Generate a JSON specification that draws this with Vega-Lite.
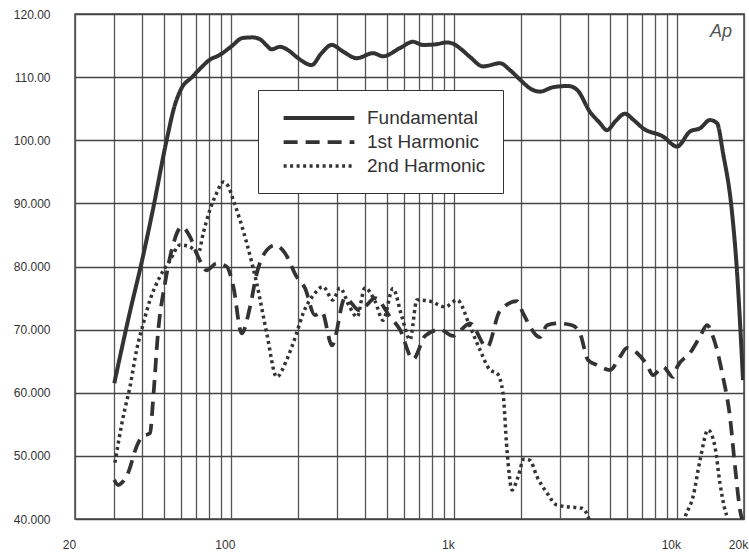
{
  "$schema": "https://vega.github.io/schema/vega-lite/v6.json",
  "width": 669,
  "height": 505,
  "autosize": {"type": "none"},
  "padding": {"left": 75, "top": 14, "right": 5, "bottom": 33},
  "background": "white",
  "config": {
    "view": {"stroke": "#444", "strokeWidth": 1.5},
    "font": "Liberation Sans"
  },
  "datasets": {
    "curves": [
      {"s": "Fundamental", "f": 30, "v": 61.5},
      {"s": "Fundamental", "f": 35, "v": 72.3},
      {"s": "Fundamental", "f": 40, "v": 81},
      {"s": "Fundamental", "f": 45, "v": 89.5},
      {"s": "Fundamental", "f": 51.5, "v": 100},
      {"s": "Fundamental", "f": 56, "v": 105.5},
      {"s": "Fundamental", "f": 60, "v": 108.2},
      {"s": "Fundamental", "f": 67, "v": 110},
      {"s": "Fundamental", "f": 74, "v": 111.6},
      {"s": "Fundamental", "f": 80, "v": 112.7},
      {"s": "Fundamental", "f": 89, "v": 113.5},
      {"s": "Fundamental", "f": 100, "v": 114.8},
      {"s": "Fundamental", "f": 113, "v": 116.2},
      {"s": "Fundamental", "f": 125, "v": 116.3},
      {"s": "Fundamental", "f": 135, "v": 116},
      {"s": "Fundamental", "f": 145, "v": 115},
      {"s": "Fundamental", "f": 152, "v": 114.4},
      {"s": "Fundamental", "f": 166, "v": 114.8},
      {"s": "Fundamental", "f": 180, "v": 114.3},
      {"s": "Fundamental", "f": 197, "v": 113.2},
      {"s": "Fundamental", "f": 212, "v": 112.4},
      {"s": "Fundamental", "f": 230, "v": 111.9},
      {"s": "Fundamental", "f": 255, "v": 113.8},
      {"s": "Fundamental", "f": 283, "v": 115.1},
      {"s": "Fundamental", "f": 320, "v": 114},
      {"s": "Fundamental", "f": 367, "v": 113},
      {"s": "Fundamental", "f": 434, "v": 113.8},
      {"s": "Fundamental", "f": 481, "v": 113.3},
      {"s": "Fundamental", "f": 573, "v": 114.6},
      {"s": "Fundamental", "f": 656, "v": 115.6},
      {"s": "Fundamental", "f": 727, "v": 115.1},
      {"s": "Fundamental", "f": 830, "v": 115.2},
      {"s": "Fundamental", "f": 929, "v": 115.5},
      {"s": "Fundamental", "f": 991, "v": 115.3},
      {"s": "Fundamental", "f": 1080, "v": 114.4},
      {"s": "Fundamental", "f": 1181, "v": 113.2},
      {"s": "Fundamental", "f": 1351, "v": 111.7},
      {"s": "Fundamental", "f": 1610, "v": 112.2},
      {"s": "Fundamental", "f": 1786, "v": 111.1},
      {"s": "Fundamental", "f": 1981, "v": 109.6},
      {"s": "Fundamental", "f": 2200, "v": 108.2},
      {"s": "Fundamental", "f": 2434, "v": 107.7},
      {"s": "Fundamental", "f": 2781, "v": 108.4},
      {"s": "Fundamental", "f": 3250, "v": 108.6},
      {"s": "Fundamental", "f": 3566, "v": 108},
      {"s": "Fundamental", "f": 4076, "v": 104.5},
      {"s": "Fundamental", "f": 4500, "v": 102.8},
      {"s": "Fundamental", "f": 4861, "v": 101.6},
      {"s": "Fundamental", "f": 5300, "v": 103},
      {"s": "Fundamental", "f": 5849, "v": 104.2},
      {"s": "Fundamental", "f": 6400, "v": 103.2},
      {"s": "Fundamental", "f": 7043, "v": 101.9},
      {"s": "Fundamental", "f": 8664, "v": 100.6},
      {"s": "Fundamental", "f": 10020, "v": 99},
      {"s": "Fundamental", "f": 11460, "v": 101.4},
      {"s": "Fundamental", "f": 12700, "v": 101.9},
      {"s": "Fundamental", "f": 14090, "v": 103.2},
      {"s": "Fundamental", "f": 15140, "v": 102.7},
      {"s": "Fundamental", "f": 16100, "v": 98},
      {"s": "Fundamental", "f": 17620, "v": 89},
      {"s": "Fundamental", "f": 18540, "v": 80},
      {"s": "Fundamental", "f": 19800, "v": 62},
      {"s": "1st Harmonic", "f": 30, "v": 46.2},
      {"s": "1st Harmonic", "f": 31.2, "v": 45.4},
      {"s": "1st Harmonic", "f": 31.8, "v": 45.5},
      {"s": "1st Harmonic", "f": 34.6, "v": 47.3},
      {"s": "1st Harmonic", "f": 37.8, "v": 51.5},
      {"s": "1st Harmonic", "f": 39.8, "v": 53},
      {"s": "1st Harmonic", "f": 43.4, "v": 53.6},
      {"s": "1st Harmonic", "f": 44.8, "v": 58.9},
      {"s": "1st Harmonic", "f": 47.1, "v": 69.4},
      {"s": "1st Harmonic", "f": 50.7, "v": 77.4},
      {"s": "1st Harmonic", "f": 54.3, "v": 82.6},
      {"s": "1st Harmonic", "f": 60.2, "v": 86.3},
      {"s": "1st Harmonic", "f": 65.6, "v": 84.7},
      {"s": "1st Harmonic", "f": 71.4, "v": 81.5},
      {"s": "1st Harmonic", "f": 78, "v": 79.4},
      {"s": "1st Harmonic", "f": 86.3, "v": 80.5},
      {"s": "1st Harmonic", "f": 95.7, "v": 80},
      {"s": "1st Harmonic", "f": 102.6, "v": 76.8},
      {"s": "1st Harmonic", "f": 111.8, "v": 69.4},
      {"s": "1st Harmonic", "f": 121.9, "v": 73.6},
      {"s": "1st Harmonic", "f": 130.6, "v": 78.9},
      {"s": "1st Harmonic", "f": 144.9, "v": 82.6},
      {"s": "1st Harmonic", "f": 157.8, "v": 83.4},
      {"s": "1st Harmonic", "f": 175, "v": 82.1},
      {"s": "1st Harmonic", "f": 197, "v": 78.4},
      {"s": "1st Harmonic", "f": 214.8, "v": 76.6},
      {"s": "1st Harmonic", "f": 238, "v": 72.3},
      {"s": "1st Harmonic", "f": 256, "v": 72.8},
      {"s": "1st Harmonic", "f": 284, "v": 67.5},
      {"s": "1st Harmonic", "f": 325, "v": 75},
      {"s": "1st Harmonic", "f": 379, "v": 73},
      {"s": "1st Harmonic", "f": 443, "v": 75},
      {"s": "1st Harmonic", "f": 518, "v": 72},
      {"s": "1st Harmonic", "f": 573, "v": 70},
      {"s": "1st Harmonic", "f": 656, "v": 65.3},
      {"s": "1st Harmonic", "f": 743, "v": 69},
      {"s": "1st Harmonic", "f": 867, "v": 70},
      {"s": "1st Harmonic", "f": 991, "v": 69},
      {"s": "1st Harmonic", "f": 1181, "v": 71},
      {"s": "1st Harmonic", "f": 1408, "v": 67.2},
      {"s": "1st Harmonic", "f": 1610, "v": 73},
      {"s": "1st Harmonic", "f": 1920, "v": 74.5},
      {"s": "1st Harmonic", "f": 2042, "v": 72.6},
      {"s": "1st Harmonic", "f": 2434, "v": 68.8},
      {"s": "1st Harmonic", "f": 2618, "v": 70.7},
      {"s": "1st Harmonic", "f": 2899, "v": 71},
      {"s": "1st Harmonic", "f": 3386, "v": 70.7},
      {"s": "1st Harmonic", "f": 3680, "v": 69.4},
      {"s": "1st Harmonic", "f": 3995, "v": 65.2},
      {"s": "1st Harmonic", "f": 4387, "v": 64.4},
      {"s": "1st Harmonic", "f": 5015, "v": 63.6},
      {"s": "1st Harmonic", "f": 5560, "v": 65.7},
      {"s": "1st Harmonic", "f": 5975, "v": 67.1},
      {"s": "1st Harmonic", "f": 6627, "v": 66.3},
      {"s": "1st Harmonic", "f": 7348, "v": 64.4},
      {"s": "1st Harmonic", "f": 7816, "v": 62.8},
      {"s": "1st Harmonic", "f": 8664, "v": 64.1},
      {"s": "1st Harmonic", "f": 9616, "v": 62.5},
      {"s": "1st Harmonic", "f": 10030, "v": 64.1},
      {"s": "1st Harmonic", "f": 11460, "v": 66.3},
      {"s": "1st Harmonic", "f": 12700, "v": 68.9},
      {"s": "1st Harmonic", "f": 13650, "v": 70.7},
      {"s": "1st Harmonic", "f": 14520, "v": 68.9},
      {"s": "1st Harmonic", "f": 16100, "v": 62.5},
      {"s": "1st Harmonic", "f": 17300, "v": 56.2},
      {"s": "1st Harmonic", "f": 18230, "v": 48.3},
      {"s": "1st Harmonic", "f": 19200, "v": 41.4},
      {"s": "1st Harmonic", "f": 20000, "v": 39},
      {"s": "2nd Harmonic", "f": 30.2, "v": 48.9},
      {"s": "2nd Harmonic", "f": 32.9, "v": 56.2},
      {"s": "2nd Harmonic", "f": 35.3, "v": 61},
      {"s": "2nd Harmonic", "f": 37.8, "v": 66.8},
      {"s": "2nd Harmonic", "f": 40.5, "v": 71},
      {"s": "2nd Harmonic", "f": 43.4, "v": 74.7},
      {"s": "2nd Harmonic", "f": 48.1, "v": 78.4},
      {"s": "2nd Harmonic", "f": 53.4, "v": 81},
      {"s": "2nd Harmonic", "f": 59.1, "v": 83.4},
      {"s": "2nd Harmonic", "f": 65.6, "v": 83.1},
      {"s": "2nd Harmonic", "f": 71.4, "v": 82.1},
      {"s": "2nd Harmonic", "f": 75.2, "v": 85.3},
      {"s": "2nd Harmonic", "f": 80.6, "v": 89},
      {"s": "2nd Harmonic", "f": 86, "v": 91.5},
      {"s": "2nd Harmonic", "f": 92.5, "v": 93.4},
      {"s": "2nd Harmonic", "f": 97, "v": 92.8},
      {"s": "2nd Harmonic", "f": 102.6, "v": 90.5},
      {"s": "2nd Harmonic", "f": 117.8, "v": 83.7},
      {"s": "2nd Harmonic", "f": 130.6, "v": 77.3},
      {"s": "2nd Harmonic", "f": 144.9, "v": 69.4},
      {"s": "2nd Harmonic", "f": 160.5, "v": 62.5},
      {"s": "2nd Harmonic", "f": 177.9, "v": 65.2},
      {"s": "2nd Harmonic", "f": 197, "v": 69.4},
      {"s": "2nd Harmonic", "f": 211, "v": 72.6},
      {"s": "2nd Harmonic", "f": 235, "v": 75.5},
      {"s": "2nd Harmonic", "f": 259, "v": 76.8},
      {"s": "2nd Harmonic", "f": 287, "v": 74.7},
      {"s": "2nd Harmonic", "f": 308, "v": 76.6},
      {"s": "2nd Harmonic", "f": 342, "v": 73.5},
      {"s": "2nd Harmonic", "f": 368, "v": 72},
      {"s": "2nd Harmonic", "f": 399, "v": 76.6},
      {"s": "2nd Harmonic", "f": 443, "v": 74.5},
      {"s": "2nd Harmonic", "f": 481, "v": 71.5},
      {"s": "2nd Harmonic", "f": 533, "v": 76.5},
      {"s": "2nd Harmonic", "f": 585, "v": 72},
      {"s": "2nd Harmonic", "f": 636, "v": 68.4},
      {"s": "2nd Harmonic", "f": 683, "v": 74.7},
      {"s": "2nd Harmonic", "f": 782, "v": 74.5},
      {"s": "2nd Harmonic", "f": 913, "v": 73.6},
      {"s": "2nd Harmonic", "f": 1034, "v": 74.7},
      {"s": "2nd Harmonic", "f": 1181, "v": 70.5},
      {"s": "2nd Harmonic", "f": 1309, "v": 66.8},
      {"s": "2nd Harmonic", "f": 1453, "v": 63.6},
      {"s": "2nd Harmonic", "f": 1560, "v": 63.1},
      {"s": "2nd Harmonic", "f": 1660, "v": 60},
      {"s": "2nd Harmonic", "f": 1730, "v": 51},
      {"s": "2nd Harmonic", "f": 1824, "v": 44.6},
      {"s": "2nd Harmonic", "f": 1941, "v": 46.7},
      {"s": "2nd Harmonic", "f": 2062, "v": 49.5},
      {"s": "2nd Harmonic", "f": 2193, "v": 49.3},
      {"s": "2nd Harmonic", "f": 2360, "v": 46.7},
      {"s": "2nd Harmonic", "f": 2618, "v": 44.1},
      {"s": "2nd Harmonic", "f": 2899, "v": 42.2},
      {"s": "2nd Harmonic", "f": 3320, "v": 41.9},
      {"s": "2nd Harmonic", "f": 3757, "v": 41.7},
      {"s": "2nd Harmonic", "f": 3995, "v": 40.4},
      {"s": "2nd Harmonic", "f": 4300, "v": 36},
      {"s": "2nd Harmonic", "f": 6000, "v": 30},
      {"s": "2nd Harmonic", "f": 9000, "v": 30},
      {"s": "2nd Harmonic", "f": 10300, "v": 37},
      {"s": "2nd Harmonic", "f": 10870, "v": 40.2},
      {"s": "2nd Harmonic", "f": 11810, "v": 43.5},
      {"s": "2nd Harmonic", "f": 12700, "v": 49.3},
      {"s": "2nd Harmonic", "f": 13800, "v": 54.1},
      {"s": "2nd Harmonic", "f": 14830, "v": 51.4},
      {"s": "2nd Harmonic", "f": 15600, "v": 45.7},
      {"s": "2nd Harmonic", "f": 16440, "v": 41.4},
      {"s": "2nd Harmonic", "f": 16780, "v": 40.3},
      {"s": "2nd Harmonic", "f": 17500, "v": 35}
    ],
    "logo": [{"f": 15770, "v": 117.2, "t": "Ap"}]
  },
  "layer": [
    {
      "data": {"name": "curves"},
      "mark": {"type": "line", "clip": true, "interpolate": "monotone", "color": "#333", "strokeCap": "butt"},
      "encoding": {
        "x": {
          "field": "f", "type": "quantitative",
          "scale": {"type": "log", "domain": [20, 20000], "nice": false},
          "axis": {
            "values": [20, 30, 40, 50, 60, 70, 80, 90, 100, 200, 300, 400, 500, 600, 700, 800, 900, 1000, 2000, 3000, 4000, 5000, 6000, 7000, 8000, 9000, 10000, 20000],
            "labelExpr": "datum.value==20?'20':datum.value==100?'100':datum.value==1000?'1k':datum.value==10000?'10k':datum.value==20000?'20k':''",
            "title": null, "grid": true, "gridColor": "#555", "gridWidth": 1.3,
            "ticks": false, "domain": false, "labelPadding": 20, "labelFontSize": 12,
            "labelColor": "#333", "labelFlush": false, "labelOverlap": false, "labelBound": false,
            "labelOffset": -6
          }
        },
        "y": {
          "field": "v", "type": "quantitative",
          "scale": {"domain": [40, 120], "nice": false, "zero": false},
          "axis": {
            "values": [40, 50, 60, 70, 80, 90, 100, 110, 120],
            "labelExpr": "datum.value>=100?format(datum.value,'.2f'):format(datum.value,'.3f')",
            "title": null, "grid": true, "gridColor": "#444", "gridWidth": 1.6,
            "ticks": false, "domain": false, "labelPadding": 25, "labelFontSize": 12,
            "labelColor": "#333", "labelFlush": false, "labelOverlap": false
          }
        },
        "strokeDash": {
          "field": "s", "type": "nominal",
          "scale": {"domain": ["Fundamental", "1st Harmonic", "2nd Harmonic"], "range": [[1, 0], [14, 8], [3, 3.5]]},
          "legend": {
            "title": null, "orient": "none", "legendX": 183, "legendY": 76,
            "fillColor": "white", "strokeColor": "#333", "padding": 17, "symbolOffset": 33,
            "symbolType": "M-4,0H4", "symbolSize": 313, "symbolStrokeWidth": 3.5,
            "symbolStrokeColor": "#333", "symbolFillColor": "transparent",
            "labelFontSize": 19, "labelColor": "#333",
            "labelOffset": 37, "rowPadding": 3
          }
        },
        "strokeWidth": {
          "field": "s", "type": "nominal",
          "scale": {"domain": ["Fundamental", "1st Harmonic", "2nd Harmonic"], "range": [4, 3.5, 3.6]},
          "legend": null
        }
      }
    },
    {
      "data": {"name": "logo"},
      "mark": {"type": "text", "fontStyle": "italic", "fontSize": 18, "color": "#555", "baseline": "middle", "align": "center"},
      "encoding": {
        "x": {"field": "f", "type": "quantitative"},
        "y": {"field": "v", "type": "quantitative"},
        "text": {"field": "t"}
      }
    }
  ]
}
